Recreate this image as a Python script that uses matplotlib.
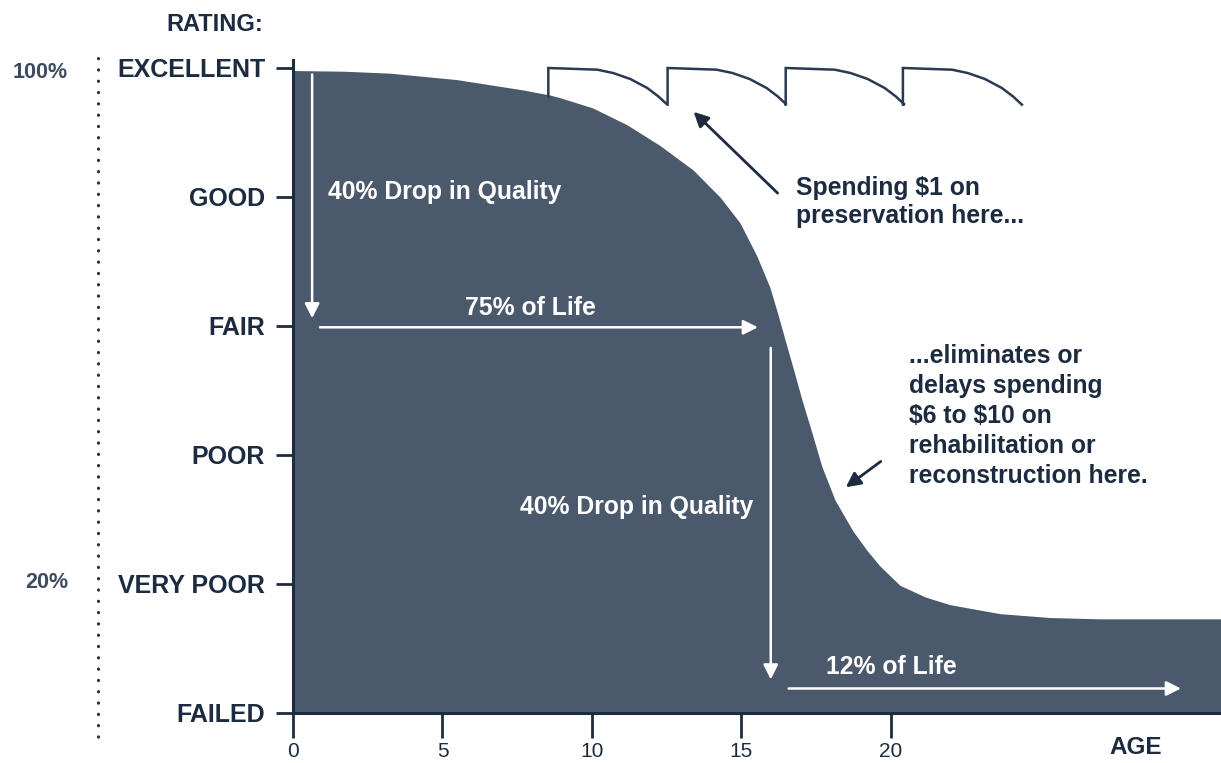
import matplotlib.pyplot as plt
from matplotlib.lines import Line2D

# condition curve (age in years, rating 0=failed .. 5=excellent)
age = [0, 0.13, 1.7, 3.24, 5.48, 7.69, 8.60, 8.93, 10.03, 11.17, 12.27, 13.38, 14.28,
       14.95, 15.52, 15.95, 16.22, 16.45, 16.72, 17.02, 17.36, 17.69, 18.13, 18.73,
       19.2, 19.63, 20.30, 21.14, 21.97, 23.65, 25.32, 26.99, 31.1]
rating = [4.98, 4.98, 4.975, 4.96, 4.91, 4.83, 4.79, 4.77, 4.69, 4.56, 4.40, 4.21, 4.00,
          3.80, 3.54, 3.30, 3.09, 2.90, 2.68, 2.43, 2.17, 1.91, 1.65, 1.41,
          1.26, 1.14, 0.99, 0.90, 0.84, 0.77, 0.74, 0.73, 0.73]

rating_labels = ['FAILED', 'VERY POOR', 'POOR', 'FAIR', 'GOOD', 'EXCELLENT']
age_ticks = [0, 5, 10, 15, 20]

# preservation "sawtooth": each treatment restores the rating to excellent
treat_ages = [8.54, 12.53, 16.48, 20.4]
tooth_dx = [0, 1.64, 2.17, 2.74, 3.31, 3.68, 3.98]
tooth_dy = [0, -0.013, -0.039, -0.085, -0.155, -0.220, -0.284]
first_base = 4.78

navy = '#1c2b40'
slate = '#4b596c'
plt.rcParams['font.family'] = ['Liberation Sans', 'DejaVu Sans']
plt.rcParams['text.parse_math'] = False

fig = plt.figure(figsize=(12.21, 7.63), dpi=100)
ax = fig.add_axes([293 / 1221, 50 / 763, 928 / 1221, 653 / 763])
ax.set_xlim(0, 31.04)
ax.set_ylim(0, 5.062)

ax.fill_between(age, rating, 0, color=slate, lw=0)

# sawtooth line
sx, sy = [], []
base = first_base
for a in treat_ages:
    sx += [a, a]
    sy += [base, 5.0]
    for dx, dy in zip(tooth_dx[1:], tooth_dy[1:]):
        sx.append(a + dx)
        sy.append(5.0 + dy)
    base = 5.0 + tooth_dy[-1]
ax.plot(sx, sy, color='#2a3a50', lw=1.8, solid_joinstyle='miter')

for s in ['top', 'right']:
    ax.spines[s].set_visible(False)
for s in ['left', 'bottom']:
    ax.spines[s].set_color(navy)
    ax.spines[s].set_linewidth(2.2)

ax.set_yticks(range(6))
ax.set_yticklabels(rating_labels, fontsize=18, fontweight='bold', color=navy)
ax.set_xticks(age_ticks)
ax.set_xticklabels([str(t) for t in age_ticks], fontsize=15, color=navy)
ax.tick_params(axis='y', length=12, width=2, color=navy, pad=8)
ax.tick_params(axis='x', length=18, width=2, color=navy, pad=3)

ax.text(-1.0, 5.34, 'RATING:', fontsize=17, fontweight='bold', color=navy,
        ha='right', va='center', clip_on=False)
ax.text(28.2, -0.27, 'AGE', fontsize=17.5, fontweight='bold', color=navy,
        ha='center', va='center', clip_on=False)

# percentage column and dotted guide
fig.text(68 / 1221, 1 - 72 / 763, '100%', fontsize=15.5, fontweight='bold',
         color='#3c4b60', ha='right', va='center')
fig.text(68 / 1221, 1 - 583 / 763, '20%', fontsize=15.5, fontweight='bold',
         color='#3c4b60', ha='right', va='center')
fig.add_artist(Line2D([98 / 1221, 98 / 1221], [1 - 58 / 763, 1 - 737 / 763],
                      transform=fig.transFigure, color=navy, lw=2.2,
                      linestyle=(0, (0.1, 3.6)), dash_capstyle='round'))

# white arrows and labels inside the curve
white_arrow = dict(arrowstyle='-|>', color='white', lw=1.8, mutation_scale=22, shrinkA=0, shrinkB=0)
ax.annotate('', xy=(0.64, 3.06), xytext=(0.64, 4.95), arrowprops=white_arrow)
ax.annotate('', xy=(15.55, 2.99), xytext=(0.9, 2.99), arrowprops=white_arrow)
ax.annotate('', xy=(15.98, 0.26), xytext=(15.98, 2.83), arrowprops=white_arrow)
ax.annotate('', xy=(29.7, 0.19), xytext=(16.58, 0.19), arrowprops=white_arrow)

wt = dict(fontsize=17.8, fontweight='bold', color='white', va='center')
ax.text(1.17, 4.04, '40% Drop in Quality', **wt)
ax.text(5.76, 3.14, '75% of Life', **wt)
ax.text(7.6, 1.60, '40% Drop in Quality', **wt)
ax.text(17.82, 0.36, '12% of Life', **wt)

# dark call-outs
dark_arrow = dict(arrowstyle='-|>', color=navy, lw=2, mutation_scale=22, shrinkA=0, shrinkB=0)
ax.annotate('', xy=(13.40, 4.66), xytext=(16.21, 4.03), arrowprops=dark_arrow)
ax.annotate('', xy=(18.49, 1.75), xytext=(19.66, 1.95), arrowprops=dark_arrow)

dt = dict(fontsize=17.8, fontweight='bold', color=navy, va='center', ha='left')
ax.text(16.82, 3.96, 'Spending $1 on\npreservation here...', linespacing=1.2, **dt)
ax.text(20.6, 2.30, '...eliminates or\ndelays spending\n$6 to $10 on\nrehabilitation or\n'
        'reconstruction here.', linespacing=1.32, **dt)

fig.savefig('out.png', dpi=100)
